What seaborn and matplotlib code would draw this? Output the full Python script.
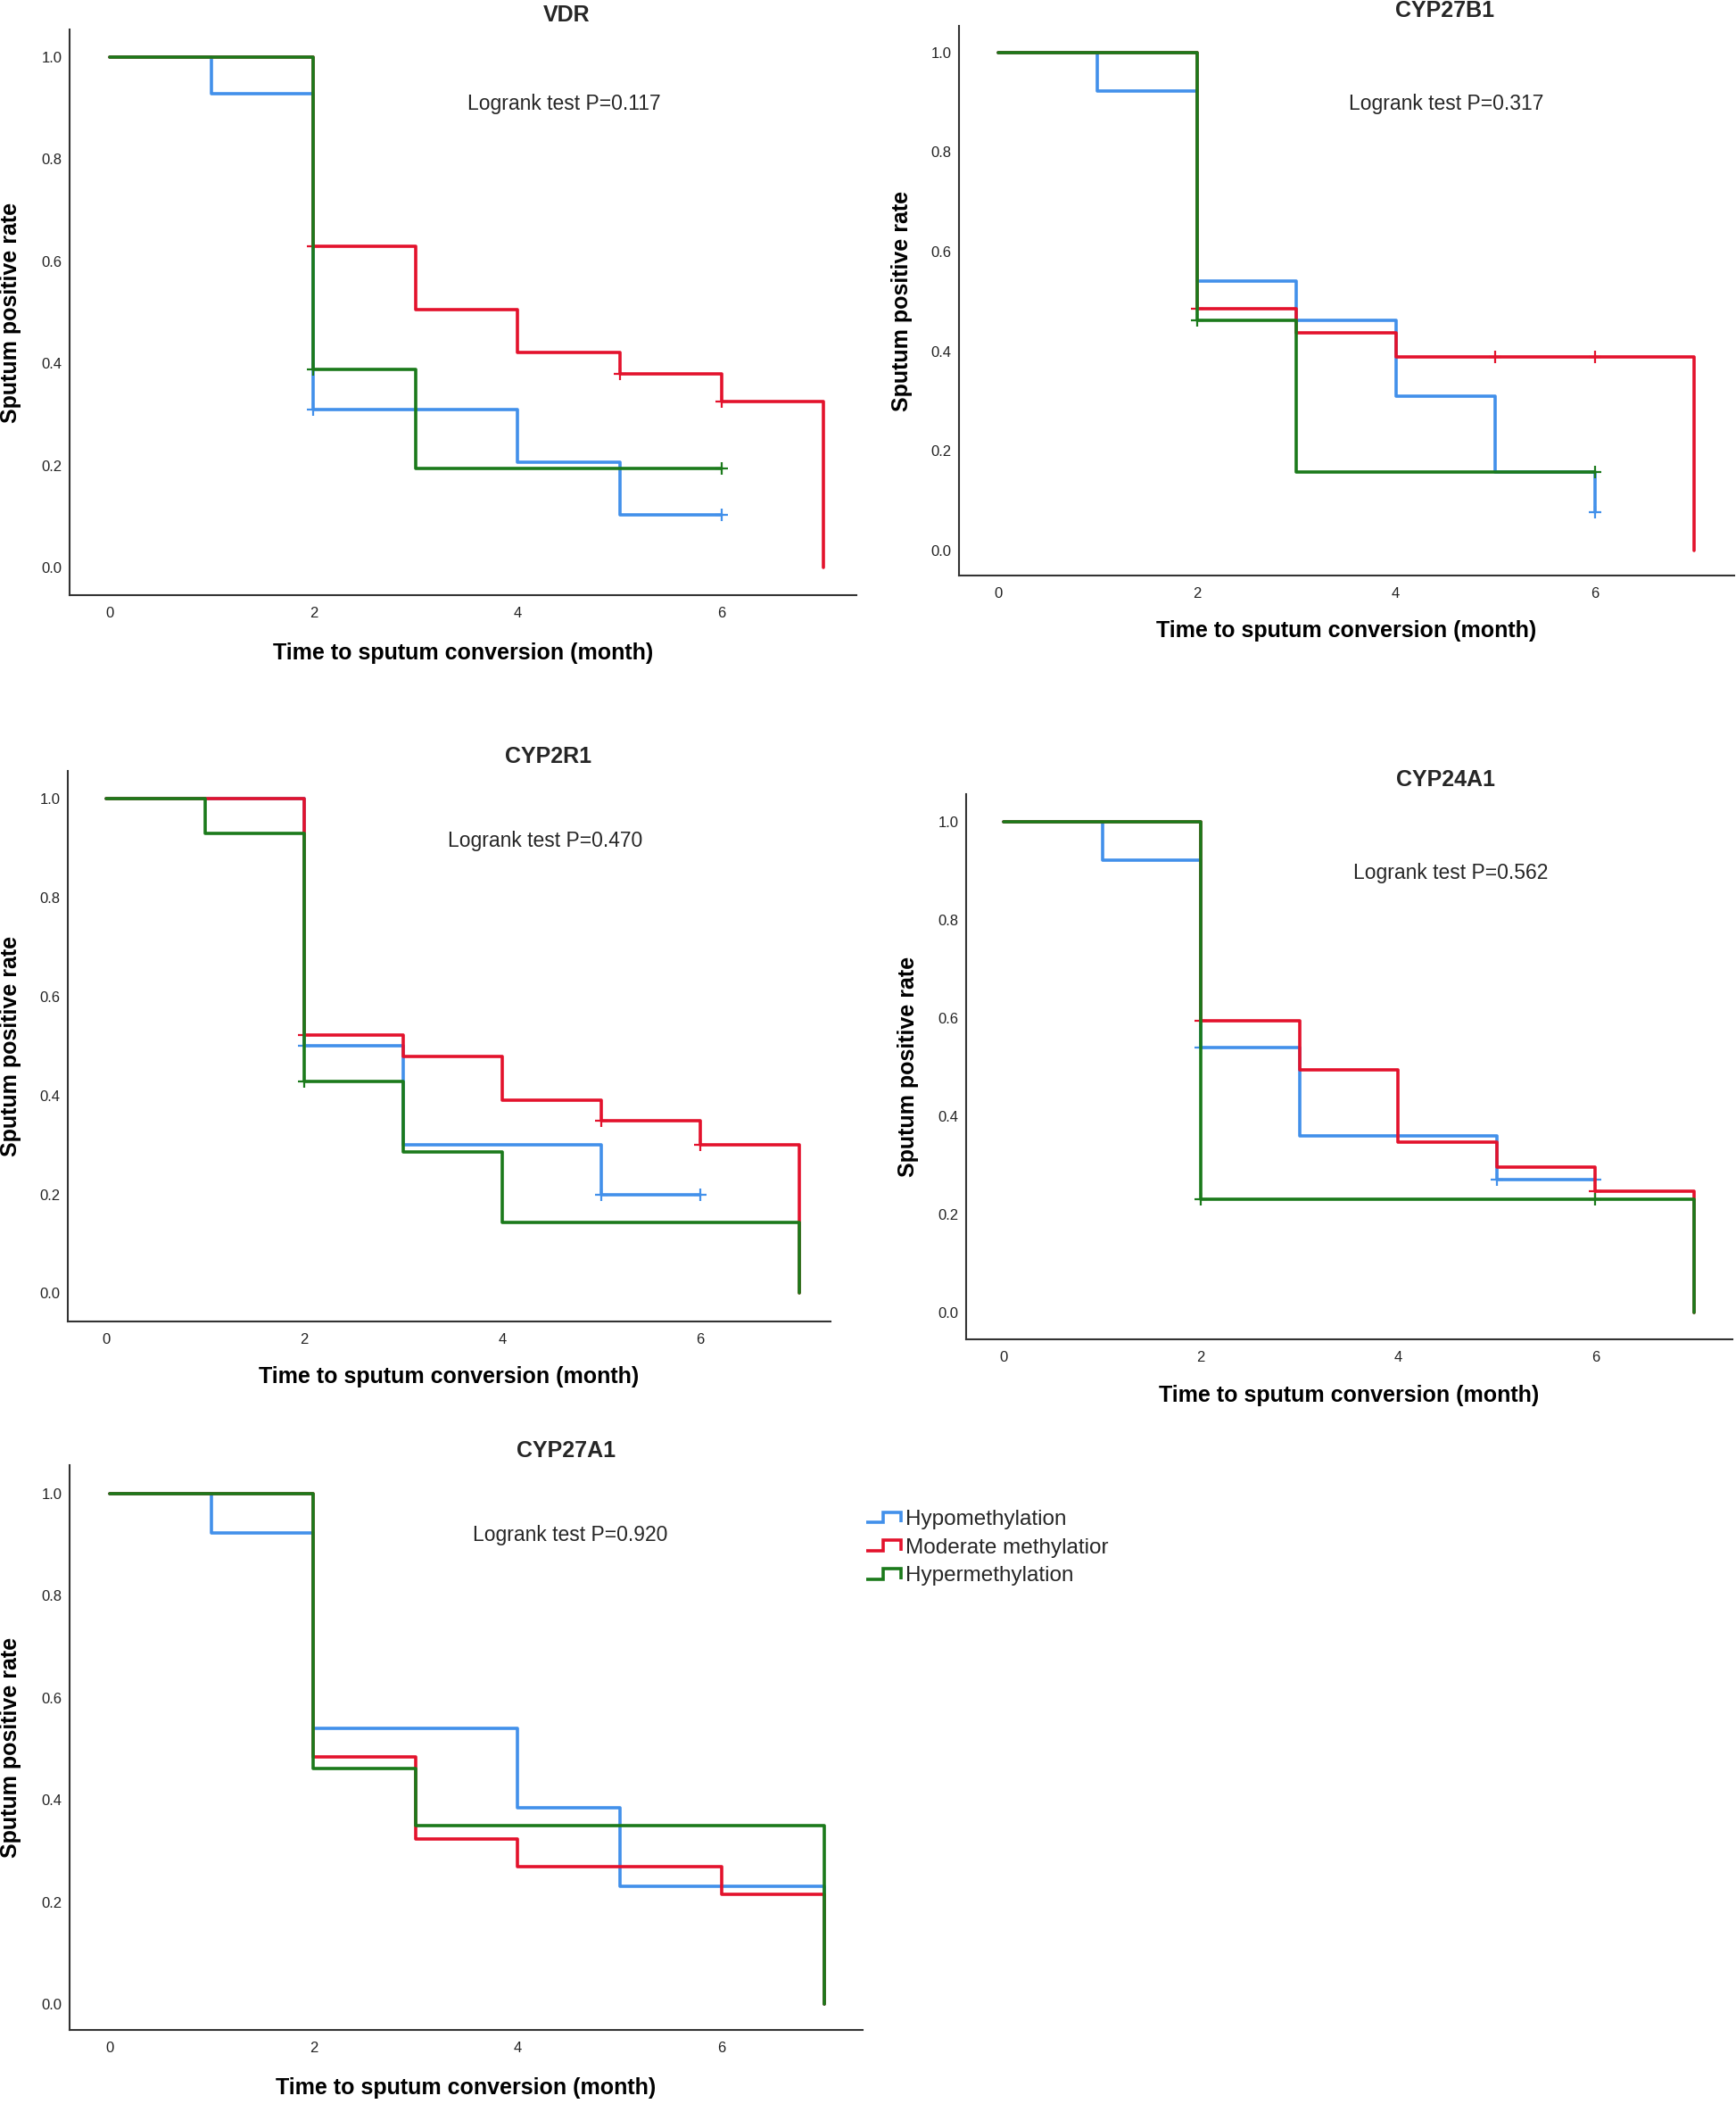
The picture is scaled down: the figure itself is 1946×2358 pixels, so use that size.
import numpy as np
import pandas as pd
import matplotlib
matplotlib.use("Agg")
import matplotlib.pyplot as plt
import seaborn as sns
from matplotlib.lines import Line2D
from matplotlib.legend_handler import HandlerBase

# ---------------- data ----------------
genes = ["VDR", "CYP27B1", "CYP2R1", "CYP24A1", "CYP27A1"]
pvalues = ["0.117", "0.317", "0.470", "0.562", "0.920"]
groups = ["Hypomethylation", "Moderate methylatior", "Hypermethylation"]
colors = ["#4290EA", "#E3122C", "#1B7A1B"]

x_ticks = [0, 2, 4, 6]
y_ticks = [0.0, 0.2, 0.4, 0.6, 0.8, 1.0]
y_ticklabels = ["0.0", "0.2", "0.4", "0.6", "0.8", "1.0"]

# VDR
vdr_hypo_t = [0, 1, 2, 4, 5, 6]
vdr_hypo_s = [1.0, 0.929, 0.310, 0.207, 0.103, 0.103]
vdr_hypo_c = [2, 6]
vdr_mod_t = [0, 2, 3, 4, 5, 6, 7]
vdr_mod_s = [1.0, 0.630, 0.506, 0.422, 0.380, 0.326, 0.0]
vdr_mod_c = [2, 5, 6]
vdr_hyper_t = [0, 2, 3, 6]
vdr_hyper_s = [1.0, 0.388, 0.195, 0.195]
vdr_hyper_c = [2, 6]

# CYP27B1
b1_hypo_t = [0, 1, 2, 3, 4, 5, 6]
b1_hypo_s = [1.0, 0.923, 0.540, 0.463, 0.310, 0.157, 0.078]
b1_hypo_c = [6]
b1_mod_t = [0, 2, 3, 4, 7]
b1_mod_s = [1.0, 0.486, 0.437, 0.389, 0.0]
b1_mod_c = [2, 5, 6]
b1_hyper_t = [0, 2, 3, 6]
b1_hyper_s = [1.0, 0.463, 0.157, 0.157]
b1_hyper_c = [2, 6]

# CYP2R1
r1_hypo_t = [0, 2, 3, 5, 6]
r1_hypo_s = [1.0, 0.500, 0.300, 0.200, 0.200]
r1_hypo_c = [2, 5, 6]
r1_mod_t = [0, 2, 3, 4, 5, 6, 7]
r1_mod_s = [1.0, 0.522, 0.478, 0.390, 0.348, 0.300, 0.0]
r1_mod_c = [2, 5, 6]
r1_hyper_t = [0, 1, 2, 3, 4, 7]
r1_hyper_s = [1.0, 0.929, 0.429, 0.286, 0.143, 0.0]
r1_hyper_c = [2]

# CYP24A1
a1_24_hypo_t = [0, 1, 2, 3, 5, 6]
a1_24_hypo_s = [1.0, 0.923, 0.540, 0.360, 0.270, 0.270]
a1_24_hypo_c = [2, 5, 6]
a1_24_mod_t = [0, 2, 3, 4, 5, 6, 7]
a1_24_mod_s = [1.0, 0.595, 0.495, 0.347, 0.297, 0.247, 0.0]
a1_24_mod_c = [2, 6]
a1_24_hyper_t = [0, 2, 7]
a1_24_hyper_s = [1.0, 0.231, 0.0]
a1_24_hyper_c = [2, 6]

# CYP27A1
a1_27_hypo_t = [0, 1, 2, 4, 5, 7]
a1_27_hypo_s = [1.0, 0.923, 0.540, 0.385, 0.231, 0.0]
a1_27_hypo_c = []
a1_27_mod_t = [0, 2, 3, 4, 6, 7]
a1_27_mod_s = [1.0, 0.484, 0.323, 0.269, 0.215, 0.0]
a1_27_mod_c = []
a1_27_hyper_t = [0, 2, 3, 7]
a1_27_hyper_s = [1.0, 0.462, 0.350, 0.0]
a1_27_hyper_c = []

curves = {
    "VDR": [(vdr_hypo_t, vdr_hypo_s, vdr_hypo_c), (vdr_mod_t, vdr_mod_s, vdr_mod_c),
            (vdr_hyper_t, vdr_hyper_s, vdr_hyper_c)],
    "CYP27B1": [(b1_hypo_t, b1_hypo_s, b1_hypo_c), (b1_mod_t, b1_mod_s, b1_mod_c),
                (b1_hyper_t, b1_hyper_s, b1_hyper_c)],
    "CYP2R1": [(r1_hypo_t, r1_hypo_s, r1_hypo_c), (r1_mod_t, r1_mod_s, r1_mod_c),
               (r1_hyper_t, r1_hyper_s, r1_hyper_c)],
    "CYP24A1": [(a1_24_hypo_t, a1_24_hypo_s, a1_24_hypo_c), (a1_24_mod_t, a1_24_mod_s, a1_24_mod_c),
                (a1_24_hyper_t, a1_24_hyper_s, a1_24_hyper_c)],
    "CYP27A1": [(a1_27_hypo_t, a1_27_hypo_s, a1_27_hypo_c), (a1_27_mod_t, a1_27_mod_s, a1_27_mod_c),
                (a1_27_hyper_t, a1_27_hyper_s, a1_27_hyper_c)],
}

# ---------------- layout (pixels) ----------------
W, H = 1946, 2358
layout = {
    "VDR":     dict(box=(78, 33, 960, 667), xlim=(-0.39, 7.32), ylim=(-0.054, 1.054),
                    title=(635, 17), logrank=(632, 117), xlab=732, ylab=12),
    "CYP27B1": dict(box=(1075, 29, 1944, 645), xlim=(-0.39, 7.40), ylim=(-0.050, 1.053),
                    title=(1620, 12), logrank=(1621, 116), xlab=707, ylab=1011),
    "CYP2R1":  dict(box=(76, 864, 931, 1481), xlim=(-0.39, 7.32), ylim=(-0.057, 1.056),
                    title=(615, 848), logrank=(611, 942), xlab=1543, ylab=12),
    "CYP24A1": dict(box=(1083, 890, 1942, 1501), xlim=(-0.38, 7.39), ylim=(-0.055, 1.057),
                    title=(1620, 874), logrank=(1626, 979), xlab=1564, ylab=1018),
    "CYP27A1": dict(box=(78, 1642, 967, 2275), xlim=(-0.39, 7.38), ylim=(-0.050, 1.055),
                    title=(635, 1626), logrank=(639, 1721), xlab=2340, ylab=12),
}

LW = 2.6

sns.set_theme(style="white")
plt.rcParams["font.family"] = ["Liberation Sans", "DejaVu Sans"]

fig = plt.figure(figsize=(W / 100, H / 100), dpi=100)


def fx(px):
    return px / W


def fy(py):
    return 1 - py / H


def step_value(t, s, x):
    val = s[0]
    for ti, si in zip(t, s):
        if ti <= x:
            val = si
    return val


for gene, pv in zip(genes, pvalues):
    L = layout[gene]
    l, t_, r, b = L["box"]
    ax = fig.add_axes([fx(l), fy(b), (r - l) / W, (b - t_) / H])
    for k, (tt, ss, cc) in enumerate(curves[gene]):
        df = pd.DataFrame({"time": tt, "surv": ss})
        sns.lineplot(data=df, x="time", y="surv", ax=ax, color=colors[k], linewidth=LW,
                     drawstyle="steps-post", estimator=None, sort=False, legend=False,
                     zorder=2 + k)
        if cc:
            cdf = pd.DataFrame({"time": cc, "surv": [step_value(tt, ss, c) for c in cc]})
            ax.plot(cdf["time"], cdf["surv"], ls="none", marker="+", markersize=10,
                    markeredgewidth=1.6, color=colors[k], zorder=2 + k)
    ax.set_xlim(*L["xlim"])
    ax.set_ylim(*L["ylim"])
    ax.set_xticks(x_ticks)
    ax.set_xticklabels([str(v) for v in x_ticks])
    ax.set_yticks(y_ticks)
    ax.set_yticklabels(y_ticklabels)
    ax.tick_params(axis="both", length=0, labelsize=12, colors="#222222")
    ax.tick_params(axis="x", pad=9)
    ax.tick_params(axis="y", pad=6)
    for sp in ["top", "right"]:
        ax.spines[sp].set_visible(False)
    for sp in ["left", "bottom"]:
        ax.spines[sp].set_color("#333333")
        ax.spines[sp].set_linewidth(1.5)
    ax.set_xlabel("Time to sputum conversion (month)", fontsize=18, fontweight="bold",
                  color="black")
    ax.set_ylabel("Sputum positive rate", fontsize=18, fontweight="bold", color="black")
    ax.xaxis.set_label_coords(0.5, -(L["xlab"] - b) / (b - t_))
    ax.xaxis.label.set_va("center")
    ax.yaxis.set_label_coords(-(l - L["ylab"]) / (r - l), 0.5)
    ax.yaxis.label.set_va("center")
    fig.text(fx(L["title"][0]), fy(L["title"][1]), gene, fontsize=18, fontweight="bold",
             ha="center", va="center")
    fig.text(fx(L["logrank"][0]), fy(L["logrank"][1]), f"Logrank test P={pv}", fontsize=16.5,
             ha="center", va="center")


class StepHandler(HandlerBase):
    def create_artists(self, legend, orig_handle, xdescent, ydescent, width, height,
                       fontsize, trans):
        x0 = -xdescent
        y0 = -ydescent
        lo = y0 + 0.15 * height
        hi = y0 + 0.85 * height
        xs = [x0, x0 + 0.5 * width, x0 + 0.5 * width, x0 + width, x0 + width]
        ys = [lo, lo, hi, hi, lo]
        ln = Line2D(xs, ys, color=orig_handle.get_color(), lw=orig_handle.get_linewidth(),
                    solid_joinstyle="miter", solid_capstyle="butt")
        ln.set_transform(trans)
        return [ln]


handles = [Line2D([], [], color=c, lw=LW) for c in colors]
fig.legend(handles, groups, handler_map={Line2D: StepHandler()}, loc="upper left",
           bbox_to_anchor=(fx(971), fy(1692)), frameon=False, fontsize=17.5,
           handlelength=1.6, handletextpad=0.2, labelspacing=0.4, borderpad=0,
           borderaxespad=0)

fig.savefig("out.png", dpi=100)
